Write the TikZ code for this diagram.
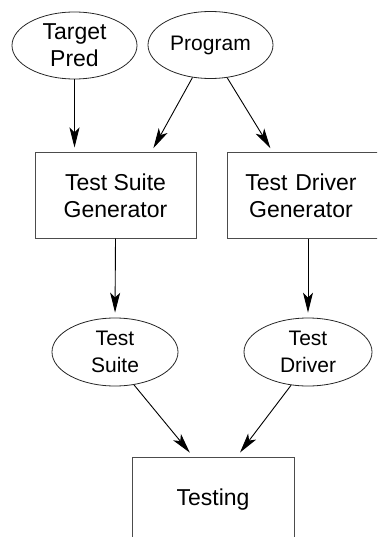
\documentclass[tikz,border=0pt]{standalone}
\usepackage{fontspec}
\setmainfont{Liberation Sans}
\usetikzlibrary{arrows.meta,shapes.geometric}
\tikzset{
  big/.style={font=\fontsize{23}{27}\selectfont},
  small/.style={font=\fontsize{21}{27}\selectfont},
  oval/.style={draw=black!85, ellipse, line width=0.8pt, inner sep=0pt,
    align=center, minimum width=125pt, minimum height=67pt},
  stage/.style={draw=black!70, rectangle, line width=1pt, inner sep=0pt,
    align=center, minimum width=161pt, minimum height=85pt},
  flow/.style={-{Stealth[length=20pt,width=10pt,inset=5pt]}, line width=0.9pt,
    shorten >=5pt}
}
\begin{document}
\begin{tikzpicture}[x=1pt,y=-1pt]
  \useasboundingbox (0,0) rectangle (377,537);
  \clip (0,0) rectangle (377,537);

  % inputs
  \node[oval, big] (pred) at (74.5,45.5) {Target\\Pred};
  \node[oval, small] (prog) at (210.5,45) {Program};

  % generators
  \node[stage, big] (tsg) at (115.5,195.5) {Test Suite\\Generator};
  \node[stage, big, minimum width=154pt, text width=148pt] (tdg) at (304,195.5)
    {\hspace*{-6pt}Test Driver\\\hspace*{-6pt}Generator};

  % generated artefacts
  \node[oval, small, minimum width=126pt, minimum height=68pt] (suite) at (115,352) {Test\\Suite};
  \node[oval, small, minimum width=128pt, minimum height=68pt] (driver) at (308,352) {Test\\Driver};

  % final stage
  \node[stage, big, minimum width=162pt] (testing) at (213,499.5) {Testing};

  % connectors
  \draw[flow] (pred.south) -- (pred.south |- tsg.north);
  \draw[flow] (prog.241) -- ([xshift=35.5pt]tsg.north);
  \draw[flow] (prog.297) -- ([xshift=-31pt]tdg.north);
  \draw[flow] (tsg.south) -- (suite.north);
  \draw[flow] (tdg.south -| driver.north) -- (driver.north);
  \draw[flow] (suite.300) -- ([xshift=-20pt]testing.north);
  \draw[flow] (driver.243) -- ([xshift=24pt]testing.north);
\end{tikzpicture}
\end{document}
